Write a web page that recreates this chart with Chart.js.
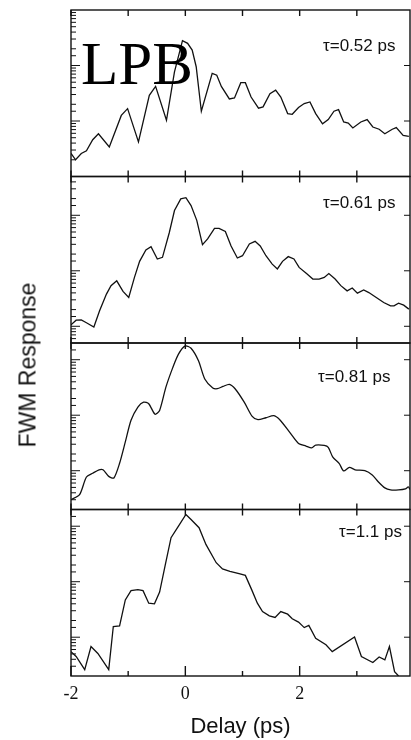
<!DOCTYPE html>
<html>
<head>
<meta charset="utf-8">
<script src="https://cdn.jsdelivr.net/npm/chart.js@4.4.1/dist/chart.umd.min.js"></script>
<style>
  html, body { margin: 0; padding: 0; background: #fff; }
  #wrap { position: relative; width: 411px; height: 740px; overflow: hidden; }
  #wrap canvas { position: absolute; left: 0; top: 0; }
  .tau { position: absolute; font-family: 'Liberation Sans', Arial, sans-serif; font-size: 17px; line-height: 1; color: #111; white-space: nowrap; }
  .lpb { position: absolute; left: 81px; top: 33px; font-family: 'Liberation Serif', 'Times New Roman', serif; font-size: 61px; line-height: 1; color: #000; }
  .ytitle { position: absolute; left: 28px; top: 365px; transform: translate(-50%, -50%) rotate(-90deg); font-family: 'Liberation Sans', Arial, sans-serif; font-size: 23px; line-height: 1; color: #111; white-space: nowrap; }
</style>
</head>
<body>
<div id="wrap">
  <canvas id="fwm" width="411" height="740"></canvas>
  <div class="lpb">LPB</div>
  <div class="tau" style="left:323px;top:37px;">τ=0.52 ps</div>
  <div class="tau" style="left:323px;top:194px;">τ=0.61 ps</div>
  <div class="tau" style="left:318px;top:368px;">τ=0.81 ps</div>
  <div class="tau" style="left:339px;top:523px;">τ=1.1 ps</div>
  <div class="ytitle">FWM Response</div>
</div>
<script>
// ---- data (delay in ps, response on log axis) ----
const delay052 = [-2.0, -1.92, -1.82, -1.73, -1.62, -1.52, -1.33, -1.12, -1.01, -0.82, -0.63, -0.52, -0.33, -0.19, -0.05, 0.04, 0.12, 0.19, 0.28, 0.47, 0.55, 0.63, 0.77, 0.86, 0.97, 1.05, 1.15, 1.28, 1.36, 1.48, 1.58, 1.67, 1.79, 1.87, 1.98, 2.08, 2.18, 2.28, 2.40, 2.50, 2.60, 2.68, 2.77, 2.85, 2.93, 3.07, 3.18, 3.28, 3.39, 3.49, 3.62, 3.69, 3.81, 3.91];
const resp052 = [2.6, 2.0, 2.6, 2.9, 4.6, 5.9, 3.4, 12.6, 16.7, 4.2, 29, 42, 10.3, 77, 280, 251, 190, 95, 15, 72, 67, 42, 25, 26, 49, 49, 27, 17, 18, 31, 36, 27, 13.6, 13.2, 17.5, 20.6, 22, 13.6, 8.9, 10.6, 15, 16, 9.6, 9.2, 7.5, 9.6, 10.6, 7.8, 7.1, 5.9, 7.1, 7.6, 5.5, 5.3];

const delay061 = [-2.0, -1.91, -1.82, -1.73, -1.60, -1.50, -1.38, -1.30, -1.20, -1.09, -0.99, -0.89, -0.80, -0.69, -0.60, -0.49, -0.40, -0.28, -0.19, -0.08, 0.01, 0.10, 0.20, 0.30, 0.39, 0.51, 0.59, 0.70, 0.80, 0.91, 1.00, 1.12, 1.22, 1.31, 1.41, 1.52, 1.61, 1.70, 1.80, 1.90, 1.99, 2.12, 2.23, 2.34, 2.43, 2.51, 2.62, 2.72, 2.83, 2.92, 3.01, 3.12, 3.21, 3.34, 3.47, 3.59, 3.65, 3.73, 3.82, 3.91];
const resp061 = [1.06, 1.29, 1.30, 1.16, 0.97, 1.9, 3.8, 5.4, 6.6, 4.25, 3.3, 7.6, 14.8, 23.8, 27.3, 16.3, 17.5, 49, 122, 198, 208, 150, 81, 29.5, 37.5, 58, 58, 51, 28, 17, 18.7, 30.5, 34, 28, 18.7, 13.2, 10.8, 14.8, 18, 16.3, 11.5, 8.9, 7.1, 7.1, 7.6, 8.9, 7.1, 5.4, 4.35, 4.9, 3.95, 4.5, 4.05, 3.3, 2.68, 2.34, 2.34, 2.6, 2.4, 2.04];

const delay081 = [-2.0, -1.85, -1.73, -1.62, -1.51, -1.44, -1.34, -1.25, -1.15, -1.05, -0.95, -0.83, -0.73, -0.64, -0.53, -0.45, -0.34, -0.22, -0.12, 0.0, 0.10, 0.23, 0.34, 0.48, 0.56, 0.66, 0.77, 0.87, 1.03, 1.17, 1.27, 1.41, 1.55, 1.66, 1.82, 1.98, 2.11, 2.21, 2.28, 2.43, 2.50, 2.58, 2.69, 2.77, 2.87, 2.97, 3.14, 3.27, 3.37, 3.49, 3.59, 3.73, 3.85, 3.90, 3.93];
const resp081 = [0.30, 0.37, 0.77, 0.90, 1.04, 1.04, 0.79, 0.74, 1.36, 3.3, 8.1, 14, 17.2, 16.1, 10.4, 12.2, 32, 72, 126, 177, 161, 96, 45, 31, 30, 33, 36, 30, 17.2, 9.5, 8.3, 9.0, 9.8, 8.1, 5.0, 3.1, 2.78, 2.58, 2.89, 2.85, 2.64, 1.75, 1.36, 0.99, 1.15, 1.04, 1.0, 0.84, 0.64, 0.49, 0.45, 0.45, 0.47, 0.51, 0.46];

const delay11 = [-2.0, -1.91, -1.76, -1.65, -1.53, -1.34, -1.26, -1.15, -1.05, -0.95, -0.83, -0.74, -0.64, -0.54, -0.45, -0.35, -0.25, -0.12, 0.01, 0.10, 0.24, 0.36, 0.54, 0.65, 0.78, 0.94, 1.05, 1.16, 1.26, 1.35, 1.47, 1.57, 1.67, 1.79, 1.87, 1.98, 2.08, 2.16, 2.28, 2.46, 2.57, 2.96, 3.08, 3.28, 3.39, 3.49, 3.57, 3.66, 3.73];
const resp11 = [0.55, 0.45, 0.26, 0.68, 0.51, 0.26, 1.56, 1.6, 4.7, 6.9, 7.2, 6.9, 4.1, 4.0, 6.5, 20.3, 62, 100, 163, 132, 94, 47, 22, 17, 15.4, 14, 13, 7.2, 4.1, 2.9, 2.43, 2.27, 2.9, 2.6, 2.15, 1.87, 1.49, 1.63, 0.96, 0.73, 0.55, 1.01, 0.45, 0.35, 0.44, 0.39, 0.68, 0.24, 0.2];

// axis ranges
const delayMin = -2, delayMax = 3.93;
const panelIds = ['y1', 'y2', 'y3', 'y4'];
const panelMin = [1, 0.5, 0.2, 0.2];
const panelMax = [1000, 500, 200, 200];

const series = [
  [delay052, resp052],
  [delay061, resp061],
  [delay081, resp081],
  [delay11, resp11],
];

// frame + inward ticks, like the printed figure
const frameTicks = {
  id: 'frameTicks',
  afterDatasetsDraw(chart) {
    const { ctx, chartArea: a, scales } = chart;
    const xs = scales.x;
    const line = (x1, y1, x2, y2) => { ctx.beginPath(); ctx.moveTo(x1, y1); ctx.lineTo(x2, y2); ctx.stroke(); };
    ctx.save();
    ctx.strokeStyle = '#111';
    panelIds.forEach((id, i) => {
      const s = scales[id];
      ctx.lineWidth = 1.4;
      ctx.strokeRect(a.left, s.top, a.right - a.left, s.bottom - s.top);
      xs.ticks.forEach(t => {
        const px = xs.getPixelForValue(t.value);
        line(px, s.top, px, s.top + 6);
        const last = i === panelIds.length - 1;
        const len = last ? (t.value % 2 === 0 ? 10 : 5) : 6;
        line(px, s.bottom, px, s.bottom - len);
      });
      ctx.lineWidth = 1;
      s.ticks.forEach(t => {
        const py = s.getPixelForValue(t.value);
        if (py < s.top + 1 || py > s.bottom - 1) return;
        const major = Math.abs(Math.log10(t.value) - Math.round(Math.log10(t.value))) < 1e-6;
        line(a.left, py, a.left + (major ? 9 : 5), py);
        if (major) line(a.right, py, a.right - 6, py);
      });
    });
    ctx.restore();
  }
};

const scales = {
  x: {
    type: 'linear',
    min: delayMin,
    max: delayMax,
    grid: { display: false, drawTicks: false },
    border: { display: false },
    ticks: {
      stepSize: 1,
      autoSkip: false,
      includeBounds: false,
      maxRotation: 0,
      padding: 7,
      color: '#111',
      font: { family: "'Liberation Serif', 'Times New Roman', serif", size: 18 },
      callback: v => (v % 2 === 0 ? String(v) : ''),
    },
    title: {
      display: true,
      text: 'Delay (ps)',
      color: '#111',
      padding: { top: 2, bottom: 0 },
      font: { family: "'Liberation Sans', Arial, sans-serif", size: 22 },
    },
  },
};
panelIds.forEach((id, i) => {
  scales[id] = {
    type: 'logarithmic',
    position: 'left',
    stack: 'panels',
    stackWeight: 1,
    weight: panelIds.length - i,
    min: panelMin[i],
    max: panelMax[i],
    grid: { display: false, drawTicks: false },
    border: { display: false },
    ticks: { display: false },
  };
});

new Chart(document.getElementById('fwm'), {
  type: 'line',
  data: {
    datasets: series.map(([xs, ys], i) => ({
      label: panelIds[i],
      data: xs.map((x, k) => ({ x, y: ys[k] })),
      yAxisID: panelIds[i],
      borderColor: '#111',
      borderWidth: 1.3,
      pointRadius: 0,
      fill: false,
      tension: i === 2 ? 0.25 : 0,
    })),
  },
  options: {
    responsive: false,
    animation: false,
    devicePixelRatio: 1,
    layout: { padding: { left: 71, right: 1, top: 10, bottom: 0 } },
    plugins: { legend: { display: false }, tooltip: { enabled: false } },
    scales,
  },
  plugins: [frameTicks],
});
</script>
</body>
</html>
